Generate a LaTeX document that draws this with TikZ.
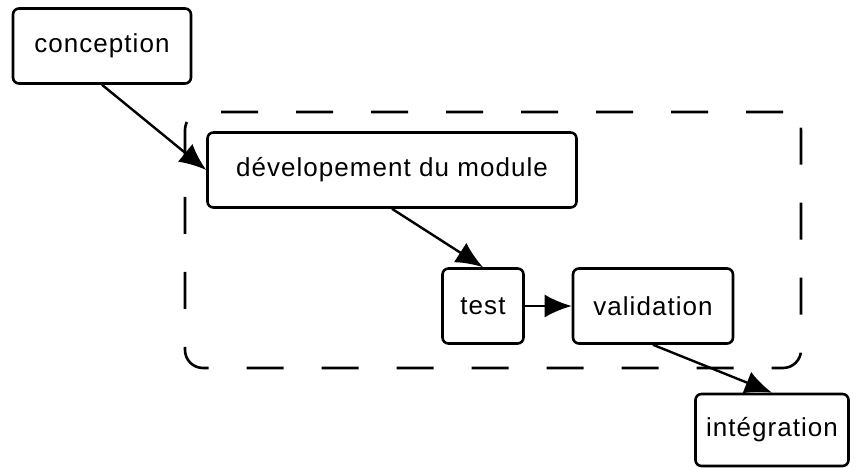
\documentclass[tikz,border=0pt]{standalone}
\usepackage{fontspec}
\setmainfont{Liberation Sans}[LetterSpace=4]
\usetikzlibrary{arrows.meta}

\tikzset{
  etape/.style={draw, rectangle, rounded corners=6pt, line width=2.6pt, minimum height=75pt, inner sep=0pt, font=\fontsize{26}{30}\selectfont},
  fleche/.style={-{Latex[length=27pt,width=23pt]}, line width=2.4pt},
  cadre/.style={draw, rectangle, rounded corners=18pt, line width=2.6pt, dash pattern=on 37pt off 38pt},
}

\begin{document}
\begin{tikzpicture}[x=1pt, y=-1pt]
  \useasboundingbox (0,0) rectangle (857,468);

  % le module
  \node[cadre, minimum width=616pt, minimum height=256pt] (module) at (493,240) {};

  \node[etape, minimum width=178pt] (conception) at (102,46) {conception};
  \node[etape, minimum width=369pt] (dev) at (392,170) {dévelopement du module};
  \node[etape, minimum width=81pt] (test) at (483,306) {test};
  \node[etape, minimum width=160pt] (validation) at (653,306) {validation};
  \node[etape, minimum width=153pt, minimum height=72pt] (integration) at (772,430) {intégration};

  \draw[fleche] (conception.south) -- (dev.west);
  \draw[fleche] (dev.south) -- (test.north);
  \draw[fleche] (test) -- (validation);
  \draw[fleche] (validation.south) -- (integration.north);
\end{tikzpicture}
\end{document}
